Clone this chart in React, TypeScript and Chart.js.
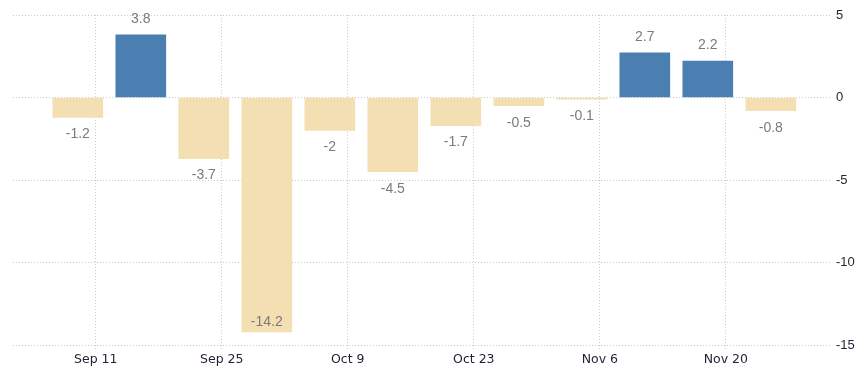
import React, { useEffect, useRef } from "react";
import { Chart, registerables } from "chart.js";

Chart.register(...registerables);

const barDates = [
  "2022-09-09", "2022-09-16", "2022-09-23", "2022-09-30",
  "2022-10-07", "2022-10-14", "2022-10-21", "2022-10-28",
  "2022-11-04", "2022-11-11", "2022-11-18", "2022-11-25",
];
const values = [-1.2, 3.8, -3.7, -14.2, -2, -4.5, -1.7, -0.5, -0.1, 2.7, 2.2, -0.8];
const tickDates = ["2022-09-11", "2022-09-25", "2022-10-09", "2022-10-23", "2022-11-06", "2022-11-20"];
const tickLabels = ["Sep 11", "Sep 25", "Oct 9", "Oct 23", "Nov 6", "Nov 20"];
const yTicks = [5, 0, -5, -10, -15];

const BASE = Date.parse("2022-09-11T00:00:00Z");
const day = (d: string) => (Date.parse(d + "T00:00:00Z") - BASE) / 86400000;

const BLUE = "#4b7fb1";
const BEIGE = "#f4dfb3";
const GRID = "#cbcbcb";

const labelPlugin = {
  id: "valueLabels",
  afterDatasetsDraw(chart: any) {
    const ctx = chart.ctx;
    const meta = chart.getDatasetMeta(0);
    const area = chart.chartArea;
    ctx.save();
    ctx.font = "14px 'Liberation Sans', Arial, sans-serif";
    ctx.fillStyle = "#7a7a7a";
    ctx.textAlign = "center";
    ctx.textBaseline = "middle";
    meta.data.forEach((el: any, i: number) => {
      const v = values[i];
      let y: number;
      if (v >= 0) {
        y = el.y - 16;
      } else {
        y = el.y + 17;
        if (y + 8 > area.bottom) y = el.y - 10;
      }
      ctx.fillText(String(v), el.x, y);
    });
    ctx.restore();
  },
};

export default function App() {
  const ref = useRef<HTMLCanvasElement>(null);
  useEffect(() => {
    if (!ref.current) return;
    const chart = new Chart(ref.current, {
      type: "bar",
      data: {
        datasets: [
          {
            data: barDates.map((d, i) => ({ x: day(d), y: values[i] })),
            backgroundColor: values.map((v) => (v >= 0 ? BLUE : BEIGE)),
            barThickness: 50,
            borderWidth: 0,
          },
        ],
      },
      options: {
        responsive: false,
        animation: false,
        layout: { padding: { left: 13, top: 15, right: 0, bottom: 0 } },
        plugins: { legend: { display: false }, tooltip: { enabled: false } },
        scales: {
          x: {
            type: "linear",
            offset: false,
            min: -9.2,
            max: 81.8,
            afterBuildTicks: (scale: any) => {
              scale.ticks = tickDates.map((d) => ({ value: day(d) }));
            },
            afterFit: (scale: any) => {
              scale.height = 33;
            },
            ticks: {
              autoSkip: false,
              maxRotation: 0,
              padding: 3,
              color: "#1f2233",
              font: { family: "'DejaVu Sans', sans-serif", size: 12.5 },
              callback: (_v: any, i: number) => tickLabels[i],
            },
            grid: {
              offset: false,
              color: GRID,
              tickColor: GRID,
              tickLength: 4,
              tickBorderDash: [1, 2],
              lineWidth: 1,
            },
            border: { display: false, dash: [1, 2] },
          },
          y: {
            position: "right",
            min: -15,
            max: 5,
            afterBuildTicks: (scale: any) => {
              scale.ticks = yTicks.map((v) => ({ value: v }));
            },
            afterFit: (scale: any) => {
              scale.width = 31;
            },
            ticks: {
              padding: 4,
              color: "#1f2233",
              font: { family: "'Liberation Sans', Arial, sans-serif", size: 13 },
            },
            grid: { color: GRID, drawTicks: false, lineWidth: 1 },
            border: { display: false, dash: [1, 2] },
          },
        },
      },
      plugins: [labelPlugin],
    } as any);
    return () => chart.destroy();
  }, []);
  return (
    <div style={{ position: "absolute", left: 0, top: 0, width: 863, height: 378, background: "#fff" }}>
      <canvas ref={ref} width={863} height={378} />
    </div>
  );
}
